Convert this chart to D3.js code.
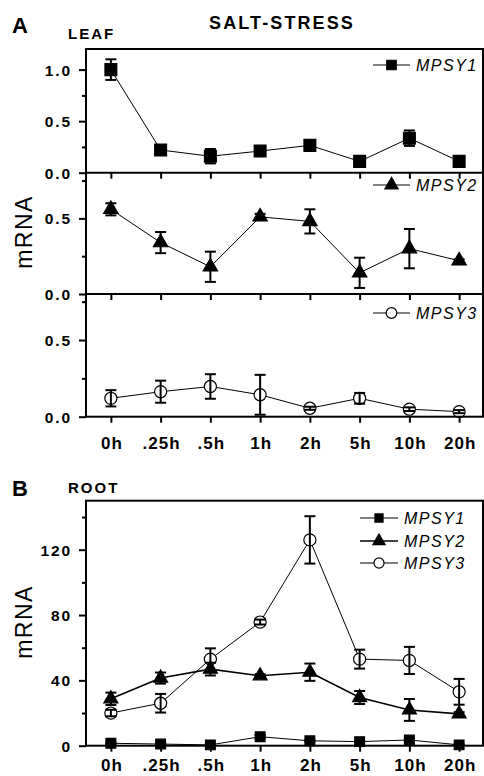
<!DOCTYPE html>
<html><head><meta charset="utf-8">
<script src="https://cdn.jsdelivr.net/npm/d3@7"></script>
<style>
body{margin:0;background:#fff}
svg{display:block}
</style>
</head><body>
<svg id="c" width="484" height="776"></svg>
<script>
// ---------- data ----------
const times = ["0h", ".25h", ".5h", "1h", "2h", "5h", "10h", "20h"];

const leafMPSY1    = [1.00, 0.22, 0.16, 0.21, 0.265, 0.11, 0.335, 0.11];
const leafMPSY1Err = [0.10, 0.02, 0.07, 0.02, 0.02, 0.01, 0.075, 0.01];
const leafMPSY2    = [0.56, 0.34, 0.18, 0.51, 0.48, 0.14, 0.30, 0.22];
const leafMPSY2Err = [0.04, 0.07, 0.10, 0.02, 0.08, 0.10, 0.13, 0.01];
const leafMPSY3    = [0.12, 0.163, 0.197, 0.143, 0.055, 0.12, 0.049, 0.033];
const leafMPSY3Err = [0.053, 0.072, 0.08, 0.13, 0.01, 0.035, 0.012, 0.01];

const rootMPSY1    = [1.5, 1.0, 0.5, 5.5, 3.0, 2.5, 3.5, 0.5];
const rootMPSY1Err = [0.5, 0.5, 0.3, 1.0, 0.5, 0.5, 0.8, 0.3];
const rootMPSY2    = [28.7, 41.4, 46.9, 42.8, 45.0, 29.5, 21.9, 19.5];
const rootMPSY2Err = [3.8, 3.4, 3.9, 1.0, 5.3, 4.0, 6.7, 1.0];
const rootMPSY3    = [20.0, 26.0, 53.0, 75.7, 126.0, 53.0, 52.2, 33.0];
const rootMPSY3Err = [2.0, 5.7, 6.6, 1.5, 14.5, 5.8, 8.3, 7.9];

const leafTicks1 = [0, 0.5, 1.0], leafMinor1 = [0.25, 0.75];
const leafTicks23 = [0, 0.5],     leafMinor23 = [0.25, 0.75];
const rootTicks = [0, 40, 80, 120], rootMinor = [20, 60, 100, 140];
const seriesNames = ["MPSY1", "MPSY2", "MPSY3"];

// ---------- setup ----------
const svg = d3.select("#c");
const FONT = "'Liberation Sans', Arial, Helvetica, sans-serif";
const L = 86, R = 483;
const x = d3.scalePoint().domain(times).range([L, R + 1]).padding(0.5);

const yL1 = d3.scaleLinear().domain([0, 1.2]).range([172.7, 49]);
const yL2 = d3.scaleLinear().domain([0, 0.8]).range([294, 173]);
const yL3 = d3.scaleLinear().domain([0, 0.8]).range([416.7, 294]);
const yR  = d3.scaleLinear().domain([0, 150]).range([745.7, 500.7]);

const symType = {square: d3.symbolSquare, triangle: d3.symbolTriangle, circle: d3.symbolCircle};

function txt(s, xx, yy, size, weight, opts = {}) {
  const t = svg.append("text").attr("x", xx).attr("y", yy).text(s)
    .attr("font-family", FONT).attr("font-size", size).attr("font-weight", weight || "normal")
    .attr("fill", "#000");
  if (opts.ls) t.attr("letter-spacing", opts.ls);
  if (opts.italic) t.attr("font-style", "italic");
  if (opts.anchor) t.attr("text-anchor", opts.anchor);
  if (opts.rotate) t.attr("transform", `rotate(-90,${xx},${yy})`);
  return t;
}

function yAxis(scale, major, minor, fmt) {
  const g = svg.append("g").attr("transform", `translate(${L},0)`);
  g.call(d3.axisLeft(scale).tickValues(major).tickSize(7).tickPadding(9).tickFormat(fmt));
  g.select(".domain").remove();
  g.selectAll(".tick line").attr("stroke", "#000").attr("stroke-width", 2);
  g.selectAll(".tick text").attr("font-family", FONT).attr("font-size", 15.5)
    .attr("font-weight", "bold").attr("fill", "#000").attr("letter-spacing", 1.8)
    .attr("dx", 1.8).attr("dy", "0.36em");
  const gm = svg.append("g").attr("transform", `translate(${L},0)`);
  gm.call(d3.axisLeft(scale).tickValues(minor).tickSize(4).tickFormat(""));
  gm.select(".domain").remove();
  gm.selectAll(".tick line").attr("stroke", "#000").attr("stroke-width", 2);
}

function xAxis(yPos, labels, labelY) {
  const g = svg.append("g").attr("transform", `translate(0,${yPos})`);
  g.call(d3.axisBottom(x).tickSize(6).tickFormat(labels ? d => d : ""));
  g.select(".domain").remove();
  g.selectAll(".tick line").attr("stroke", "#000").attr("stroke-width", 2);
  if (labels) {
    g.selectAll(".tick text").attr("font-family", FONT).attr("font-size", 17)
      .attr("font-weight", "bold").attr("fill", "#000").attr("letter-spacing", 1)
      .attr("dx", 0.5).attr("y", labelY).attr("dy", 0);
  }
}

function drawSeries(yS, vals, errs, type, size, fill, lw) {
  const g = svg.append("g");
  const line = d3.line().x((d, i) => x(times[i])).y(d => yS(d));
  g.append("path").datum(vals).attr("d", line).attr("fill", "none")
    .attr("stroke", "#000").attr("stroke-width", lw);
  const pts = vals.map((v, i) => ({v, e: errs[i], t: times[i]}));
  g.selectAll(".m").data(pts).join("path").attr("class", "m")
    .attr("transform", d => `translate(${x(d.t)},${yS(d.v)})`)
    .attr("d", d3.symbol().type(symType[type]).size(size))
    .attr("fill", fill).attr("stroke", "#000").attr("stroke-width", 1.2);
  const eb = g.selectAll(".e").data(pts).join("g").attr("class", "e")
    .attr("stroke", "#000").attr("stroke-width", 2);
  eb.append("line").attr("x1", d => x(d.t)).attr("x2", d => x(d.t))
    .attr("y1", d => yS(d.v - d.e)).attr("y2", d => yS(d.v + d.e));
  eb.append("line").attr("x1", d => x(d.t) - 5.5).attr("x2", d => x(d.t) + 5.5)
    .attr("y1", d => yS(d.v + d.e)).attr("y2", d => yS(d.v + d.e));
  eb.append("line").attr("x1", d => x(d.t) - 5.5).attr("x2", d => x(d.t) + 5.5)
    .attr("y1", d => yS(d.v - d.e)).attr("y2", d => yS(d.v - d.e));
}

function legendEntry(xl, xr, yy, type, size, fill, lw, name, fs) {
  const cx = (xl + xr) / 2;
  svg.append("line").attr("x1", xl).attr("x2", xr).attr("y1", yy).attr("y2", yy)
    .attr("stroke", "#000").attr("stroke-width", lw);
  svg.append("path").attr("transform", `translate(${cx},${yy})`)
    .attr("d", d3.symbol().type(symType[type]).size(size))
    .attr("fill", fill).attr("stroke", "#000").attr("stroke-width", 1.2);
  txt(name, xr + 6, yy + fs * 0.36, fs, "normal", {italic: true, ls: 1.5});
}

// ---------- titles ----------
txt("A", 12, 33, 22, "bold");
txt("LEAF", 68, 39, 15, "bold", {ls: 2});
txt("SALT-STRESS", 282, 29, 18, "bold", {ls: 2.1, anchor: "middle"});
txt("B", 12, 496, 22, "bold");
txt("ROOT", 68, 493, 15, "bold", {ls: 2});
txt("mRNA", 32, 232, 23, "normal", {ls: 1.5, anchor: "middle", rotate: true});
txt("mRNA", 32, 622, 23, "normal", {ls: 1.5, anchor: "middle", rotate: true});

// ---------- panel A ----------
yAxis(yL1, leafTicks1, leafMinor1, d3.format(".1f"));
yAxis(yL2, leafTicks23, leafMinor23, d3.format(".1f"));
yAxis(yL3, leafTicks23, leafMinor23, d3.format(".1f"));
xAxis(yL1(0), false);
xAxis(yL2(0), false);
xAxis(yL3(0), true, 32);

drawSeries(yL1, leafMPSY1, leafMPSY1Err, "square", 140, "#000", 1);
drawSeries(yL2, leafMPSY2, leafMPSY2Err, "triangle", 90, "#000", 1);
drawSeries(yL3, leafMPSY3, leafMPSY3Err, "circle", 115, "#fff", 1);

legendEntry(373, 410, 65, "square", 90, "#000", 1.2, seriesNames[0], 16);
legendEntry(373, 410, 185, "triangle", 75, "#000", 1.2, seriesNames[1], 16);
legendEntry(373, 410, 313, "circle", 90, "#fff", 1.2, seriesNames[2], 16);

// frame A
svg.append("rect").attr("x", L).attr("y", yL1.range()[1]).attr("width", R - L)
  .attr("height", yL3(0) - yL1.range()[1]).attr("fill", "none").attr("stroke", "#000").attr("stroke-width", 2);
[yL1(0), yL2(0)].forEach(yy => svg.append("line").attr("x1", L).attr("x2", R)
  .attr("y1", yy).attr("y2", yy).attr("stroke", "#000").attr("stroke-width", 2));

// ---------- panel B ----------
yAxis(yR, rootTicks, rootMinor, d3.format("d"));
xAxis(yR(0), true, 25);
drawSeries(yR, rootMPSY3, rootMPSY3Err, "circle", 115, "#fff", 1);
drawSeries(yR, rootMPSY2, rootMPSY2Err, "triangle", 85, "#000", 1.6);
drawSeries(yR, rootMPSY1, rootMPSY1Err, "square", 95, "#000", 1);

legendEntry(360, 398, 518, "square", 65, "#000", 1, seriesNames[0], 16);
legendEntry(360, 398, 541, "triangle", 65, "#000", 1.6, seriesNames[1], 16);
legendEntry(360, 398, 563, "circle", 80, "#fff", 1, seriesNames[2], 16);

svg.append("rect").attr("x", L).attr("y", yR.range()[1]).attr("width", R - L)
  .attr("height", yR(0) - yR.range()[1]).attr("fill", "none").attr("stroke", "#000").attr("stroke-width", 2);
</script>
</body></html>
